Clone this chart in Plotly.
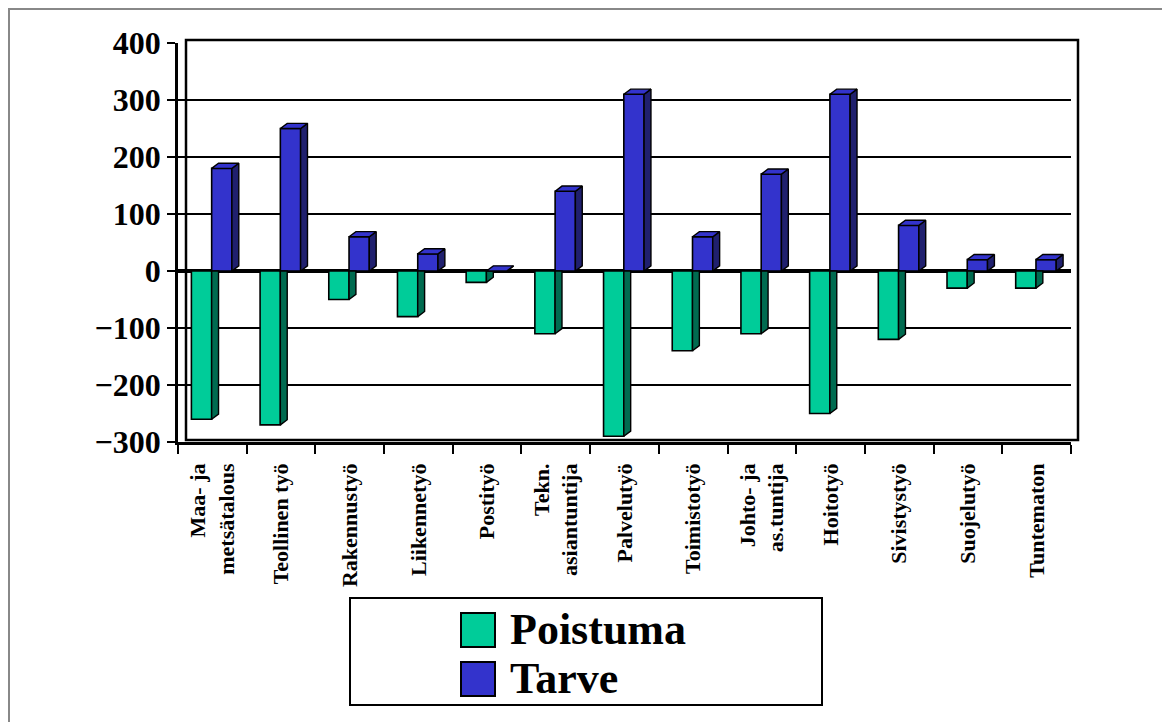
import plotly.graph_objects as go

# ---------------- data ----------------
categories = [
    "Maa- ja<br>metsätalous", "Teollinen työ", "Rakennustyö", "Liikennetyö",
    "Postityö", "Tekn.<br>asiantuntija", "Palvelutyö", "Toimistotyö",
    "Johto- ja<br>as.tuntija", "Hoitotyö", "Sivistystyö", "Suojelutyö", "Tuntematon",
]
series_names = ["Poistuma", "Tarve"]
poistuma = [-260, -270, -50, -80, -20, -110, -290, -140, -110, -250, -120, -30, -30]
tarve = [180, 250, 60, 30, 0, 140, 310, 60, 170, 310, 80, 20, 20]
y_ticks = [-300, -200, -100, 0, 100, 200, 300, 400]

# ---------------- style ----------------
FONT = "Liberation Serif"
FRONT = ["#00CC99", "#3333CC"]
SIDE = ["#006B50", "#20206E"]
TOP = ["#00CC99", "#3333CC"]
BAR_W = 0.295
OFFSETS = [-0.305, -0.01]
DEPTH_X = 0.1
DEPTH_Y = 9.0

W, H = 1170, 722
BODY = 8  # default page margin of the html body
PX_L, PX_R, PX_T, PX_B = 178, 1071, 43, 442


def px_x(px):
    return (px - PX_L) / (PX_R - PX_L)


def px_y(py):
    return (PX_B - py) / (PX_B - PX_T)


xs = list(range(len(categories)))
fig = go.Figure()

series = [poistuma, tarve]
for k, vals in enumerate(series):
    fig.add_trace(go.Bar(
        x=xs, y=vals, base=0, offset=OFFSETS[k], width=BAR_W,
        name=series_names[k], showlegend=False,
        marker=dict(color=FRONT[k], line=dict(color="black", width=1.6)),
        hoverinfo="skip",
    ))

# 3D side faces and top caps derived from the data values
for k, vals in enumerate(series):
    sx, sy, tx, ty = [], [], [], []
    for i, v in zip(xs, vals):
        x0 = i + OFFSETS[k]
        x1 = x0 + BAR_W
        if v >= 0:
            sx += [x1, x1 + DEPTH_X, x1 + DEPTH_X, x1, x1, None]
            sy += [0, DEPTH_Y, v + DEPTH_Y, v, 0, None]
            tx += [x0, x0 + DEPTH_X, x1 + DEPTH_X, x1, x0, None]
            ty += [v, v + DEPTH_Y, v + DEPTH_Y, v, v, None]
        else:
            sx += [x1, x1 + DEPTH_X, x1 + DEPTH_X, x1, x1, None]
            sy += [v, v + DEPTH_Y, 0, 0, v, None]
    fig.add_trace(go.Scatter(
        x=sx, y=sy, mode="lines", fill="toself", fillcolor=SIDE[k],
        line=dict(color="black", width=1.4), showlegend=False, hoverinfo="skip",
    ))
    if tx:
        fig.add_trace(go.Scatter(
            x=tx, y=ty, mode="lines", fill="toself", fillcolor=TOP[k],
            line=dict(color="black", width=1.4), showlegend=False, hoverinfo="skip",
        ))

shapes = [
    # outer frame of the picture (as close to the page edge as the canvas allows)
    dict(type="rect", xref="paper", yref="paper",
         x0=px_x(9), x1=px_x(1200), y0=px_y(760), y1=px_y(9),
         line=dict(color="#888888", width=2), fillcolor="rgba(0,0,0,0)", layer="below"),
    # back wall outline
    dict(type="rect", xref="paper", yref="paper",
         x0=px_x(186), x1=px_x(1078), y0=px_y(440), y1=px_y(40),
         line=dict(color="black", width=2.5), fillcolor="rgba(0,0,0,0)", layer="below"),
    # legend box
    dict(type="rect", xref="paper", yref="paper",
         x0=px_x(350), x1=px_x(822), y0=px_y(705), y1=px_y(598),
         line=dict(color="black", width=2), fillcolor="white"),
]
annotations = []
legend_rows = [(613, 647), (662, 696)]
for k, (t, b) in enumerate(legend_rows):
    shapes.append(dict(type="rect", xref="paper", yref="paper",
                       x0=px_x(461), x1=px_x(495), y0=px_y(b), y1=px_y(t),
                       line=dict(color="black", width=2), fillcolor=FRONT[k]))
    annotations.append(dict(
        text=series_names[k], xref="paper", yref="paper",
        x=px_x(508), y=px_y((t + b) / 2 - 1), xanchor="left", yanchor="middle",
        showarrow=False,
        font=dict(family=FONT, size=44, color="black", weight="bold"),
    ))

fig.update_layout(
    width=W, height=H,
    margin=dict(l=PX_L - BODY, r=W - (PX_R - BODY), t=PX_T - BODY, b=H - (PX_B - BODY), pad=0),
    paper_bgcolor="white", plot_bgcolor="white",
    barmode="overlay",
    showlegend=False,
    shapes=shapes, annotations=annotations,
    xaxis=dict(
        range=[-0.5, len(categories) - 0.5],
        tickmode="array", tickvals=xs, ticktext=categories,
        tickangle=-90, ticks="", ticklabelstandoff=10,
        tickfont=dict(family=FONT, size=22, color="black", weight="bold"),
        showline=True, linecolor="black", linewidth=2.5,
        showgrid=False, zeroline=False,
        minor=dict(tickmode="array", tickvals=[i - 0.5 for i in range(len(categories) + 1)],
                   ticks="outside", ticklen=9, tickwidth=2, tickcolor="black"),
    ),
    yaxis=dict(
        range=[-300, 400], tickmode="array", tickvals=y_ticks,
        ticks="outside", ticklen=8, tickwidth=2, tickcolor="black",
        tickfont=dict(family=FONT, size=32, color="black", weight="bold"),
        showline=True, linecolor="black", linewidth=2.5,
        showgrid=True, gridcolor="black", gridwidth=2,
        zeroline=True, zerolinecolor="black", zerolinewidth=4,
    ),
)

fig.write_html("out.html")
